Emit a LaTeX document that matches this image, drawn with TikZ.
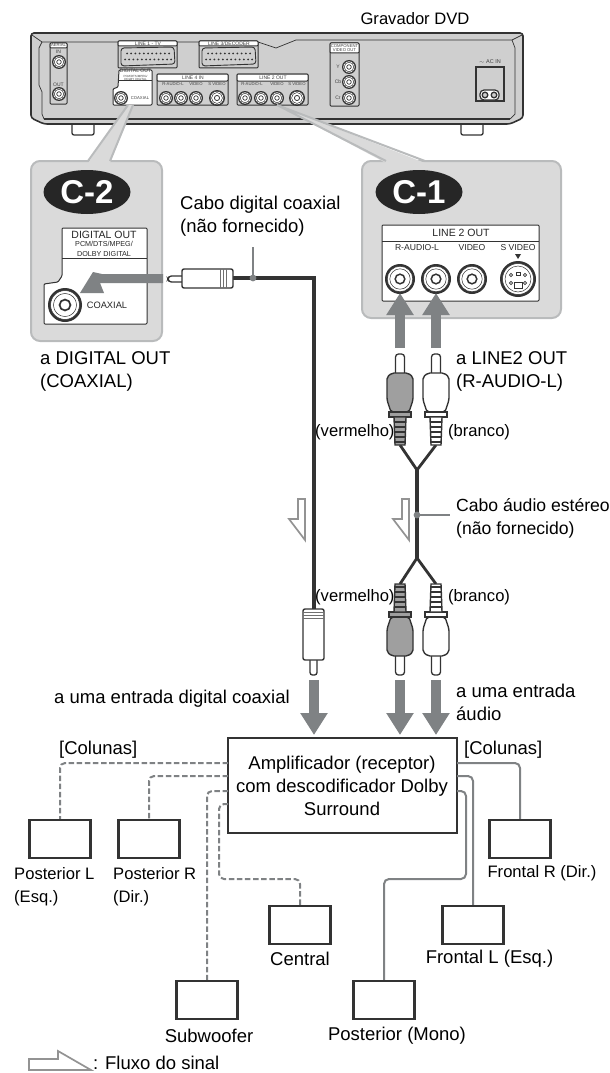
\documentclass[tikz,border=0pt]{standalone}
\usepackage{fontspec}
\setmainfont{Liberation Sans}
\usetikzlibrary{arrows.meta,calc,shapes.geometric}
\definecolor{linha}{HTML}{333333}
\definecolor{cinza}{HTML}{7F8284}
\definecolor{fundo}{HTML}{DADADA}
\definecolor{borda}{HTML}{B9BBBC}
\definecolor{corpo}{HTML}{CFCFCF}
\tikzset{
  lbl/.style={anchor=west,inner sep=0pt,align=left,font=\fontsize{18.5}{23}\selectfont},
  lblc/.style={inner sep=0pt,align=center,font=\fontsize{18.5}{23}\selectfont},
  estreito/.style={font=\fontsize{16.6}{23}\selectfont},
  devtxt/.style={inner sep=0pt,align=center,text=black!75,font=\fontsize{5}{5.5}\selectfont},
  midtxt/.style={inner sep=0pt,align=center,text=black!85,font=\fontsize{10.5}{11}\selectfont},
  coltxt/.style={inner sep=0pt,text=white,font=\fontsize{33}{33}\selectfont\bfseries},
  spk/.style={draw=linha,line width=2.4pt,fill=white,minimum width=61pt,minimum height=38pt,inner sep=0pt},
  cabofront/.style={draw=cinza,line width=2pt,rounded corners=5pt},
  caborear/.style={cabofront,dash pattern=on 5.5pt off 2.6pt},
  cabo/.style={draw=linha,line width=2.8pt},
  sinal/.style={draw=cinza,line width=10pt,-{Triangle[width=26pt,length=22pt]}},
  fluxo/.style={draw=gray!85,line width=1.7pt,fill=white,line join=miter},
  panel/.style={draw=linha,line width=1pt,fill=white,rounded corners=1pt},
  devpanel/.style={draw=linha,line width=1pt,fill=corpo,rounded corners=1pt},
  callout/.style={draw=borda,line width=2pt,fill=fundo,rounded corners=9pt},
  pics/jack/.style={code={
    \fill[linha] (0,0) circle[radius=#1];
    \draw[linha,line width=.5pt,fill=white] (0,0) circle[radius=#1*.85];
    \draw[linha,line width=.5pt] (0,0) circle[radius=#1*.68];
    \draw[linha,line width=#1*.1pt,fill=white] (0,0) circle[radius=#1*.32];
  }},
  pics/plug/.style={code={
    \draw[linha,line width=1.3pt,fill=white,rounded corners=3pt] (-4.5,21)--(-4.5,0)--(4.5,0)--(4.5,21);
    \draw[linha,line width=1.4pt,fill=#1,rounded corners=2pt] (-13,46)--(-13,23)--(-8,19)--(8,19)--(13,23)--(13,46)--(9,58)--(-9,58)--cycle;
    \draw[linha,line width=1.4pt,fill=#1] (-11,58) rectangle (11,63);
    \draw[linha,line width=1.4pt,fill=#1] (-6,63)--(6,63)--(5,91)--(-5,91)--cycle;
    \foreach \t in {68,73,...,88} \draw[linha,line width=1.3pt] (-5.5,\t)--(5.5,\t);
  }}
}
\begin{document}
\begin{tikzpicture}[x=1pt,y=-1pt]
  \useasboundingbox (0,0) rectangle (610,1073);
  % aparelho
  \node[lblc,estreito] (titulo) at (415,19) {Gravador DVD};
  \foreach \x in {72,461} \draw[linha,line width=1.3pt,fill=white,rounded corners=2pt] (\x,118) -- (\x,135) -- (\x+22,135) -- (\x+22,118);
  \draw[linha,line width=1.6pt,fill=corpo,rounded corners=3pt] (31,33) -- (523,33) -- (523,118) -- (510,124) -- (44,124) -- (31,118) -- cycle;
  \draw[linha,line width=.7pt] (32,35) -- (42,42) -- (258,42) -- (276,48) -- (296,40) -- (512,40) -- (522,35);
  \draw[linha,line width=.7pt] (42,42) -- (39,48) -- (39,85) -- (42,92) -- (42,114) -- (44,119);
  \draw[linha,line width=.7pt] (512,40) -- (515,48) -- (515,114) -- (510,119);
  \draw[linha,line width=1.5pt] (44,119) -- (510,119);
  % paineis do aparelho
  \draw[devpanel] (50,43) rectangle (67,104);
  \draw[panel] (50,43) rectangle (67,48);
  \node[devtxt,font=\fontsize{4.2}{5}\selectfont] (aerial) at (58.5,45.5) {AERIAL};
  \node[devtxt] (aerin) at (58.5,52) {IN};
  \node[devtxt] (aerout) at (58.5,85) {OUT};
  \foreach \x/\y in {59/62, 59/94} \pic at (\x,\y) {jack=7};
  \foreach \x/\tt in {118/{LINE 1 - TV}, 199/{LINE 3/DECODER}} {
    \draw[devpanel] (\x,41) rectangle (\x+59,68);
    \draw[panel] (\x,41) rectangle (\x+59,46);
    \node[devtxt] at (\x+30,43.5) {\tt};
    \draw[linha,line width=.9pt,fill=corpo,rounded corners=3pt] (\x+3,48) -- (\x+56,47) -- (\x+57,64) -- (\x+3,66) -- cycle;
    \foreach \k in {0,...,10} \fill[linha] (\x+9+\k*4.2,53.5) circle[radius=1];
    \foreach \k in {0,...,11} \fill[linha] (\x+7+\k*4.2,59.5) circle[radius=1];
  }
  \draw[panel] (113,105) -- (113,89) -- (118,87) -- (119,70) -- (152,70) -- (152,105) -- cycle;
  \draw[linha,line width=.4pt] (119,80) -- (152,80);
  \node[devtxt] (digtop) at (135.5,75) {DIGITAL OUT\\[-1pt]\fontsize{3}{3.2}\selectfont PCM/DTS/MPEG/\\[-2pt]\fontsize{3}{3.2}\selectfont DOLBY DIGITAL};
  \pic at (121,98) {jack=7};
  \node[devtxt,font=\fontsize{4.2}{5}\selectfont] (digcx) at (140,98) {COAXIAL};
  \foreach \x/\tt/\pa/\pb/\pc/\pd in {157/LINE 4 IN/166/181/196/217, 237/LINE 2 OUT/245/261/277/297} {
    \draw[devpanel] (\x,74) rectangle (\x+71,105);
    \draw[panel] (\x,74) rectangle (\x+71,81);
    \node[devtxt] at (\x+36,77.5) {\tt};
    \node[devtxt,font=\fontsize{4.2}{5}\selectfont] at (\pa+7,84.5) {R-AUDIO-L};
    \node[devtxt,font=\fontsize{4.2}{5}\selectfont] at (\pc,84.5) {VIDEO};
    \node[devtxt,font=\fontsize{4.2}{5}\selectfont] at (\pd,84.5) {S VIDEO};
    \foreach \k in {\pa,\pb,\pc} \pic at (\k,98) {jack=7};
    \pic at (\pd,98) {jack=8};
  }
  \draw[devpanel] (330,43) rectangle (359,106);
  \draw[panel] (330,43) rectangle (359,53);
  \node[devtxt,font=\fontsize{4.2}{4.8}\selectfont] (compo) at (344.5,48) {COMPONENT\\VIDEO OUT};
  \foreach \y/\tt in {67/Y, 82/Cb, 98/Cr} {
    \pic at (349,\y) {jack=7};
    \node[devtxt] at (338,\y) {\tt};
  }
  \node[devtxt,font=\fontsize{5.5}{6}\selectfont] (acin) at (490,62) {$\sim$ AC IN};
  \draw[linha,line width=1.3pt,fill=corpo] (476,67) rectangle (504,101);
  \draw[linha,line width=1.2pt,fill=white,rounded corners=4pt] (480,90) rectangle (499,100);
  \foreach \x in {485,494} \draw[linha,line width=1.3pt,fill=corpo] (\x,95) circle[radius=2.8];
  % caixa C-2
  \draw[callout] (31,161) rectangle (162,341);
  \fill[fundo] (88,163) -- (128,105) -- (133,105) -- (110,163) -- cycle;
  \draw[borda,line width=2pt] (88,161) -- (128,105) (110,161) -- (133,105);
  \node[ellipse,fill=black!85,minimum width=87pt,minimum height=44pt,inner sep=0pt] (elc2) at (87,192) {};
  \node[coltxt] (c2) at (87,192) {C-2};
  \draw[panel] (44,324) -- (44,284) -- (58,282) -- (62,276) -- (62,228) -- (147,228) -- (147,324) -- cycle;
  \draw[linha,line width=.7pt] (62,258) -- (147,258);
  \node[inner sep=0pt,align=center,text=black!85,font=\fontsize{10.5}{10.5}\selectfont] (dig) at (104,243.5) {DIGITAL OUT\\[-2pt]\fontsize{7.2}{7.5}\selectfont PCM/DTS/MPEG/\\[-1pt]\fontsize{7.2}{7.5}\selectfont DOLBY DIGITAL};
  \pic at (65,305) {jack=17};
  \node[inner sep=0pt,text=black!85,font=\fontsize{9.3}{10}\selectfont] (coax) at (107,305) {COAXIAL};
  \fill[cinza] (163,274) -- (102,274) -- (93,272) -- (80,293) -- (104,293) -- (100,283) -- (163,283) -- cycle;
  % caixa C-1
  \draw[callout] (362,161) rectangle (561,318);
  \fill[fundo] (386,163) -- (277,105) -- (425,163) -- cycle;
  \draw[borda,line width=2pt] (386,161) -- (277,105) -- (425,161);
  \node[ellipse,fill=black!85,minimum width=87pt,minimum height=44pt,inner sep=0pt] (elc1) at (419,192) {};
  \node[coltxt] (c1) at (419,192) {C-1};
  \draw[panel] (382,225) rectangle (539,301);
  \draw[linha,line width=.7pt] (382,241) -- (539,241);
  \node[midtxt] (l2out) at (461,233) {LINE 2 OUT};
  \node[midtxt,font=\fontsize{8.6}{9}\selectfont] (raudio) at (417,248) {R-AUDIO-L};
  \node[midtxt,font=\fontsize{8.6}{9}\selectfont] (video) at (472,248) {VIDEO};
  \node[midtxt,font=\fontsize{8.6}{9}\selectfont] (svideo) at (518,248) {S VIDEO};
  \fill[linha] (515,254) -- (521,254) -- (518,259) -- cycle;
  \foreach \x in {400,436,472} \pic at (\x,279) {jack=15};
  \fill[linha] (518,279) circle[radius=18];
  \draw[linha,line width=.5pt,fill=white] (518,279) circle[radius=15.5];
  \draw[linha,line width=.5pt] (518,279) circle[radius=13];
  \foreach \pa/\pb in {-7/-4, 7/-4, -7/4, 7/4} \draw[linha,line width=.7pt,fill=white] (518+\pa,279+\pb) circle[radius=1.6];
  \draw[linha,line width=.7pt] (514,282) rectangle (522,288);
  \draw[linha,line width=.7pt] (516,272) rectangle (520,275);
  % cabo digital
  \coordinate (pinoh) at (233,278);
  \coordinate (cantoh) at (314,278);
  \coordinate (pinov) at (314,609);
  \draw[cabo,line width=3.4pt,line join=miter] (pinoh) -- (cantoh) -- (pinov);
  \draw[linha,line width=1.3pt,fill=white,rounded corners=2.5pt] (182,276) -- (169,276) -- (168,279) -- (169,282) -- (182,282);
  \draw[linha,line width=1.4pt,fill=white,rounded corners=2pt] (182,269) rectangle (233,288);
  \foreach \x in {220,223,226} \draw[linha!70,line width=.6pt] (\x,269) -- (\x,288);
  \coordinate (cabodig) at (253,278);
  \coordinate (fimdig) at (253,247);
  \draw[cinza,line width=1.7pt] (cabodig) -- (fimdig);
  \fill[cinza] (cabodig) circle[radius=3.4];
  \draw[linha,line width=1.3pt,fill=white,rounded corners=2.5pt] (310,659) -- (310,675) -- (317,675) -- (317,659);
  \draw[linha,line width=1.4pt,fill=white,rounded corners=2pt] (303,609) rectangle (324,660);
  \foreach \y in {612,615,618} \draw[linha!70,line width=.6pt] (303,\y) -- (324,\y);
  % cabo audio
  \coordinate (juntasup) at (417,470);
  \coordinate (juntainf) at (417,558);
  \coordinate (caboaud) at (417,515);
  \coordinate (fimaud) at (450,515);
  \coordinate (fiosupa) at (400,445);
  \coordinate (fiosupb) at (436,445);
  \coordinate (fioinfa) at (400,584);
  \coordinate (fioinfb) at (436,584);
  \draw[cabo,line width=3.4pt] (juntasup) -- (juntainf);
  \draw[cabo] (fiosupa) -- (juntasup) -- (fiosupb);
  \draw[cabo] (fioinfa) -- (juntainf) -- (fioinfb);
  \draw[cinza,line width=1.7pt] (caboaud) -- (fimaud);
  \fill[cinza] (caboaud) circle[radius=3.4];
  \pic at (400,354) {plug=gray!75};
  \pic at (436,354) {plug=white};
  \pic[yscale=-1] at (400,675) {plug=gray!75};
  \pic[yscale=-1] at (436,675) {plug=white};
  % setas do sinal
  \foreach \x in {400,436} {
    \coordinate (ca\x) at (\x,348);
    \coordinate (cb\x) at (\x,293);
    \draw[sinal] (ca\x) -- (cb\x);
  }
  \foreach \x in {314,400,436} {
    \coordinate (da\x) at (\x,680);
    \coordinate (db\x) at (\x,735);
    \draw[sinal] (da\x) -- (db\x);
  }
  \foreach \x in {0,104} \draw[fluxo] (298+\x,499) -- (305+\x,499) -- (305+\x,540) -- (289+\x,519) -- (298+\x,519) -- cycle;
  % amplificador e colunas
  \node[draw=linha,line width=2.4pt,fill=white,minimum width=229pt,minimum height=95pt,inner sep=0pt] (amp) at (342.5,785.5) {};
  \node[lblc] (amptxt) at (342,785.5) {Amplificador (receptor)\\com descodificador Dolby\\Surround};
  \node[spk] (postl) at (60,839) {};
  \node[spk] (postr) at (149,839) {};
  \node[spk] (sub) at (207,1000) {};
  \node[spk] (cen) at (300,925) {};
  \node[spk] (frontr) at (520,839) {};
  \node[spk] (frontl) at (473,925) {};
  \node[spk] (postm) at (384,1000) {};
  \coordinate (ampa) at (228,763);
  \coordinate (ampb) at (228,776);
  \coordinate (ampc) at (228,791);
  \coordinate (ampd) at (228,804);
  \coordinate (ampe) at (457,763);
  \coordinate (ampf) at (457,776);
  \coordinate (ampg) at (457,791);
  \coordinate (volta) at (219,879);
  \coordinate (voltb) at (466,879);
  \draw[caborear] (ampa) -| (postl.north);
  \draw[caborear] (ampb) -| (postr.north);
  \draw[caborear] (ampc) -| (sub.north);
  \draw[caborear] (ampd) -| (volta) -| (cen.north);
  \draw[cabofront] (ampe) -| (frontr.north);
  \draw[cabofront] (ampf) -| (frontl.north);
  \draw[cabofront] (ampg) -| (voltb) -| (postm.north);
  % textos
  \node[lbl] (tcabo) at (180,216.5) {Cabo digital coaxial\\(não fornecido)};
  \node[lbl] (tdig) at (40,371.5) {a DIGITAL OUT\\(COAXIAL)};
  \node[lbl] (tline) at (456,371.5) {a LINE2 OUT\\(R-AUDIO-L)};
  \node[lbl,estreito] (tvera) at (315,432) {(vermelho)};
  \node[lbl,estreito] (tbra) at (448,432) {(branco)};
  \node[lbl,font=\fontsize{17.6}{23}\selectfont] (taud) at (456,518.5) {Cabo áudio estéreo\\(não fornecido)};
  \node[lbl,estreito] (tverb) at (315,597) {(vermelho)};
  \node[lbl,estreito] (tbrb) at (448,597) {(branco)};
  \node[lbl] (tent) at (54,699) {a uma entrada digital coaxial};
  \node[lbl] (tenta) at (456,702) {a uma entrada\\áudio};
  \node[lbl] (tcola) at (59,750) {[Colunas]};
  \node[lbl] (tcolb) at (464,750) {[Colunas]};
  \node[lbl,estreito] (tpl) at (14,886.5) {Posterior L\\(Esq.)};
  \node[lbl,estreito] (tpr) at (113,886.5) {Posterior R\\(Dir.)};
  \node[lblc] (tcen) at (300,959) {Central};
  \node[lblc] (tsub) at (209,1036) {Subwoofer};
  \node[lblc,estreito] (tfr) at (542,873) {Frontal R (Dir.)};
  \node[lblc] (tfl) at (489.5,959) {Frontal L (Esq.)};
  \node[lblc] (tpm) at (397,1036) {Posterior (Mono)};
  \draw[fluxo] (29,1059) -- (58,1059) -- (58,1051) -- (91,1070) -- (29,1070) -- cycle;
  \node[lbl] (tflx) at (93,1063) {: Fluxo do sinal};
\end{tikzpicture}
\end{document}
